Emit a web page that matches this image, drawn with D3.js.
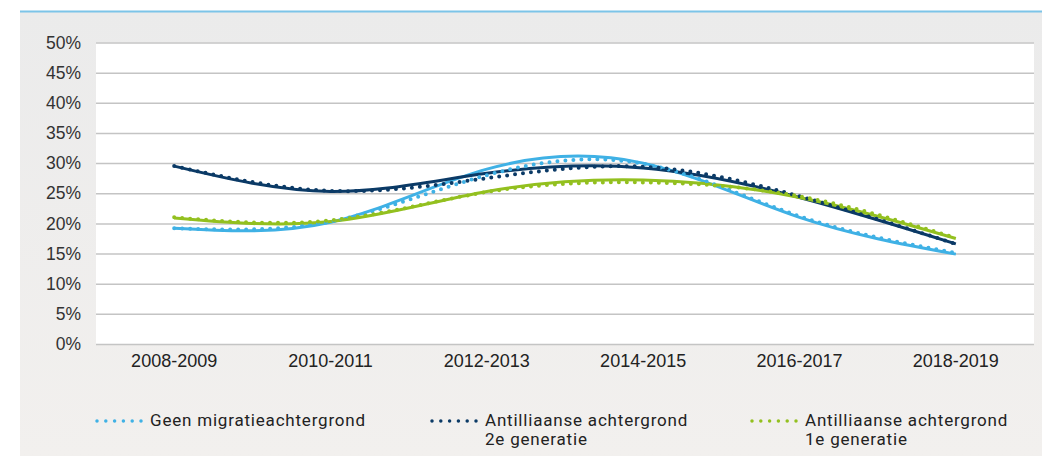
<!DOCTYPE html>
<html>
<head>
<meta charset="utf-8">
<script src="https://cdn.jsdelivr.net/npm/d3@7"></script>
<style>
  body { margin: 0; background: #ffffff; }
</style>
</head>
<body>
<script>
// categories and tick labels
const years = ["2008-2009", "2010-2011", "2012-2013", "2014-2015", "2016-2017", "2018-2019"];
const yTicks = [0, 0.05, 0.1, 0.15, 0.2, 0.25, 0.3, 0.35, 0.4, 0.45, 0.5];

// solid lines (measured shares)
const geenValues = [0.192, 0.202, 0.290, 0.300, 0.210, 0.149];
const tweedeValues = [0.295, 0.253, 0.283, 0.292, 0.243, 0.166];
const eersteValues = [0.209, 0.203, 0.253, 0.272, 0.243, 0.175];

// dotted trend lines
const geenTrend = [0.192, 0.203, 0.280, 0.299, 0.212, 0.151];
const tweedeTrend = [0.295, 0.254, 0.275, 0.294, 0.245, 0.166];
const eersteTrend = [0.210, 0.205, 0.252, 0.268, 0.245, 0.176];

const seriesNames = ["Geen migratieachtergrond", "Antilliaanse achtergrond\n2e generatie", "Antilliaanse achtergrond\n1e generatie"];
const colors = ["#3fb1e5", "#0b3a66", "#93c01f"];

const W = 1042, H = 456;
const plot = { left: 96, right: 1034, top: 42.5, bottom: 344 };

const svg = d3.select("body")
    .append("svg")
    .attr("width", W)
    .attr("height", H)
    .style("display", "block");

const defs = svg.append("defs");
const grad = defs.append("linearGradient")
    .attr("id", "bg")
    .attr("x1", 0).attr("y1", 0).attr("x2", 0).attr("y2", 1);
grad.append("stop").attr("offset", "0%").attr("stop-color", "#ebebeb");
grad.append("stop").attr("offset", "100%").attr("stop-color", "#f2f0ee");

// panel
svg.append("rect")
    .attr("x", 20).attr("y", 11)
    .attr("width", W - 20).attr("height", H - 11)
    .attr("fill", "url(#bg)");
svg.append("line")
    .attr("x1", 20).attr("x2", W)
    .attr("y1", 11.5).attr("y2", 11.5)
    .attr("stroke", "#7cc4e8")
    .attr("stroke-width", 2);

svg.append("rect")
    .attr("x", plot.left).attr("y", plot.top)
    .attr("width", plot.right - plot.left).attr("height", plot.bottom - plot.top)
    .attr("fill", "#ffffff");

const x = d3.scaleBand()
    .domain(years)
    .range([plot.left, plot.right]);

const y = d3.scaleLinear()
    .domain([0, 0.5])
    .range([plot.bottom, plot.top]);

// gridlines + y axis
const yAxis = d3.axisLeft(y)
    .tickValues(yTicks)
    .tickFormat(d3.format(".0%"))
    .tickSize(-(plot.right - plot.left))
    .tickPadding(15);

const gy = svg.append("g")
    .attr("transform", `translate(${plot.left},0)`)
    .call(yAxis);
gy.select(".domain").remove();
gy.selectAll(".tick line")
    .attr("stroke", "#c4c4c4")
    .attr("stroke-width", 1.5);
gy.selectAll(".tick text")
    .attr("font-family", "Liberation Sans, Arial, sans-serif")
    .attr("font-size", 17.5)
    .attr("fill", "#333333");

// x axis labels
const xAxis = d3.axisBottom(x).tickSize(0).tickPadding(10);
const gx = svg.append("g")
    .attr("transform", `translate(0,${plot.bottom})`)
    .call(xAxis);
gx.select(".domain").remove();
gx.selectAll(".tick text")
    .attr("font-family", "Liberation Sans, Arial, sans-serif")
    .attr("font-size", 18)
    .attr("fill", "#222222");

const line = d3.line()
    .x((d, i) => x(years[i]) + x.bandwidth() / 2)
    .y(d => y(d))
    .curve(d3.curveNatural);

const solid = [geenValues, tweedeValues, eersteValues];
const dotted = [geenTrend, tweedeTrend, eersteTrend];

svg.selectAll(".solid")
    .data(solid)
    .enter().append("path")
    .attr("class", "solid")
    .attr("d", d => line(d))
    .attr("fill", "none")
    .attr("stroke", (d, i) => colors[i])
    .attr("stroke-width", 3);

svg.selectAll(".trend")
    .data(dotted)
    .enter().append("path")
    .attr("class", "trend")
    .attr("d", d => line(d))
    .attr("fill", "none")
    .attr("stroke", (d, i) => colors[i])
    .attr("stroke-width", 4)
    .attr("stroke-linecap", "round")
    .attr("stroke-dasharray", "0 8");

// legend
const legendX = [97, 432, 752];
const legend = svg.selectAll(".legend")
    .data(seriesNames)
    .enter().append("g")
    .attr("class", "legend")
    .attr("transform", (d, i) => `translate(${legendX[i]},421)`);

legend.append("line")
    .attr("x1", 0).attr("x2", 45)
    .attr("y1", 0).attr("y2", 0)
    .attr("stroke", (d, i) => colors[i])
    .attr("stroke-width", 3.5)
    .attr("stroke-linecap", "round")
    .attr("stroke-dasharray", "0 8.8");

legend.append("text")
    .attr("x", 53)
    .attr("y", 4.5)
    .attr("font-family", "Roboto, sans-serif")
    .attr("font-size", 17)
    .attr("letter-spacing", 0.8)
    .attr("fill", "#222222")
    .selectAll("tspan")
    .data(d => d.split("\n"))
    .enter().append("tspan")
    .attr("x", 53)
    .attr("dy", (d, i) => i === 0 ? 0 : 19.5)
    .text(d => d);
</script>
</body>
</html>
